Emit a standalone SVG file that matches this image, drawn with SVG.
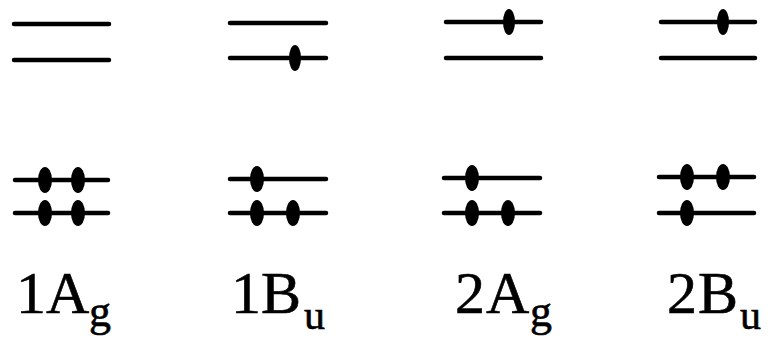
<svg xmlns="http://www.w3.org/2000/svg" width="771" height="344" viewBox="0 0 771 344">
<style>
.lv{stroke:#000;stroke-width:4.5;stroke-linecap:round;fill:none}
.e{fill:#000}
.lab{font-family:"Liberation Serif","Times New Roman",serif;font-size:60px;fill:#000;stroke:#000;stroke-width:0.6}
.sub{font-size:44px}
.subu{font-size:42px}
</style>
<rect width="771" height="344" fill="#fff"/>
<g id="state-1Ag">
<line class="lv" x1="14" y1="24" x2="109" y2="24"/>
<line class="lv" x1="14" y1="60" x2="109" y2="60"/>
<line class="lv" x1="15" y1="180" x2="108" y2="180"/>
<line class="lv" x1="15" y1="213" x2="108" y2="213"/>
<ellipse class="e" cx="45" cy="180" rx="7" ry="13"/>
<ellipse class="e" cx="78" cy="180" rx="7" ry="13"/>
<ellipse class="e" cx="45" cy="213" rx="7" ry="13"/>
<ellipse class="e" cx="78" cy="213" rx="7" ry="13"/>
<text class="lab" y="313"><tspan x="16">1</tspan><tspan x="46">A</tspan><tspan class="sub" x="89" y="326">g</tspan></text>
</g>
<g id="state-1Bu">
<line class="lv" x1="230" y1="23" x2="326" y2="23"/>
<line class="lv" x1="230" y1="58" x2="326" y2="58"/>
<ellipse class="e" cx="295" cy="58" rx="6" ry="13"/>
<line class="lv" x1="230" y1="179" x2="326" y2="179"/>
<line class="lv" x1="230" y1="213" x2="326" y2="213"/>
<ellipse class="e" cx="257" cy="179" rx="7" ry="13"/>
<ellipse class="e" cx="257" cy="213" rx="7" ry="13"/>
<ellipse class="e" cx="293" cy="213" rx="7" ry="13"/>
<text class="lab" y="313"><tspan x="231">1</tspan><tspan x="261">B</tspan><tspan class="subu" x="304" y="329">u</tspan></text>
</g>
<g id="state-2Ag">
<line class="lv" x1="446" y1="22" x2="541" y2="22"/>
<line class="lv" x1="446" y1="58" x2="541" y2="58"/>
<ellipse class="e" cx="509" cy="22" rx="6" ry="13"/>
<line class="lv" x1="444" y1="178" x2="540" y2="178"/>
<line class="lv" x1="444" y1="213" x2="540" y2="213"/>
<ellipse class="e" cx="472" cy="178" rx="7" ry="13"/>
<ellipse class="e" cx="472" cy="213" rx="7" ry="13"/>
<ellipse class="e" cx="508" cy="213" rx="7" ry="13"/>
<text class="lab" y="313"><tspan x="455">2</tspan><tspan x="486">A</tspan><tspan class="sub" x="530" y="326">g</tspan></text>
</g>
<g id="state-2Bu">
<line class="lv" x1="661" y1="22" x2="755" y2="22"/>
<line class="lv" x1="661" y1="58" x2="755" y2="58"/>
<ellipse class="e" cx="723" cy="22" rx="6" ry="13"/>
<line class="lv" x1="659" y1="177" x2="754" y2="177"/>
<line class="lv" x1="659" y1="213" x2="754" y2="213"/>
<ellipse class="e" cx="687" cy="177" rx="7" ry="13"/>
<ellipse class="e" cx="723" cy="177" rx="7" ry="13"/>
<ellipse class="e" cx="687" cy="213" rx="7" ry="13"/>
<text class="lab" y="313"><tspan x="667">2</tspan><tspan x="698">B</tspan><tspan class="subu" x="740" y="329">u</tspan></text>
</g>
<g id="connectors"/>
</svg>
